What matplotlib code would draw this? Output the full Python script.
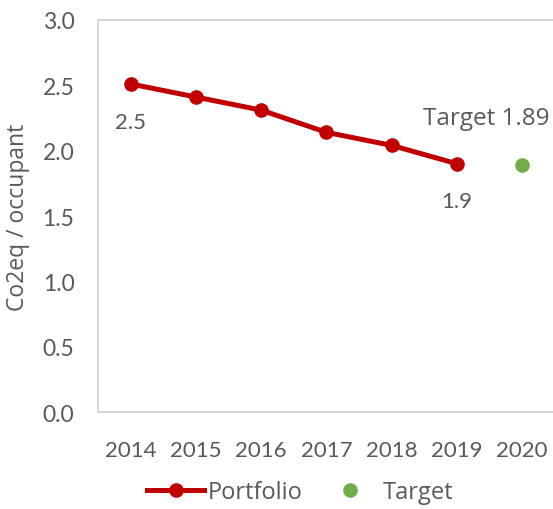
import matplotlib.pyplot as plt
from matplotlib.lines import Line2D

years = ["2014", "2015", "2016", "2017", "2018", "2019", "2020"]
portfolio = [2.51, 2.41, 2.31, 2.14, 2.04, 1.90]
target_year = "2020"
target_value = 1.89

red = "#C00000"
green = "#70AD47"
grey = "#595959"

plt.rcParams['font.family'] = ['Lato', 'DejaVu Sans']
txt_font = ['Open Sans', 'DejaVu Sans']

fig = plt.figure(figsize=(5.53, 5.10), dpi=100)
ax = fig.add_axes([0.1772, 0.190, 0.826, 0.769])

x = list(range(len(years)))
ax.plot(x[:len(portfolio)], portfolio, color=red, lw=3.6, marker="o", ms=9.5, label="Portfolio")
ax.plot([years.index(target_year)], [target_value], ls="none", color=green, marker="o", ms=9.5, label="Target")

# data labels
ax.annotate(f"{portfolio[0]:.1f}", (x[0], portfolio[0]), xytext=(0, -20), textcoords="offset points",
            ha="center", va="top", fontsize=16, color=grey)
ax.annotate(f"{portfolio[-1]:.1f}", (x[len(portfolio) - 1], portfolio[-1]), xytext=(0, -20),
            textcoords="offset points", ha="center", va="top", fontsize=16, color=grey)
ax.annotate(f"Target {target_value}", (years.index(target_year), target_value), xytext=(19.5, 25),
            textcoords="offset points", ha="right", va="bottom", fontsize=17.5, color=grey, family=txt_font)

ax.set_xlim(-0.5, len(years) - 0.5)
ax.set_ylim(0, 3.0)
yt = [0, 0.5, 1.0, 1.5, 2.0, 2.5, 3.0]
ax.set_yticks(yt)
ax.set_yticklabels([f"{v:.1f}" for v in yt])
ax.set_xticks(x)
ax.set_xticklabels(years)
ax.tick_params(length=0, labelsize=16, labelcolor=grey)
ax.tick_params(axis="x", pad=20)
ax.tick_params(axis="y", pad=17, labelsize=16.5)
for s in ax.spines.values():
    s.set_color("#D0D0D0")
    s.set_linewidth(1.2)
ax.set_ylabel("Co2eq / occupant", fontsize=16.5, color=grey, labelpad=9, family=txt_font)

handles = [Line2D([], [], color=red, lw=3.6, marker="o", ms=9.5),
           Line2D([], [], ls="none", color=green, marker="o", ms=9.5)]
fig.legend(handles, ["Portfolio", "Target"], loc="center", bbox_to_anchor=(0.543, 0.033), ncol=2,
           frameon=False, labelcolor=grey, handlelength=2.4, handletextpad=0.18,
           columnspacing=0.8, prop={"family": txt_font, "size": 17})

fig.savefig("out.png", dpi=100)
